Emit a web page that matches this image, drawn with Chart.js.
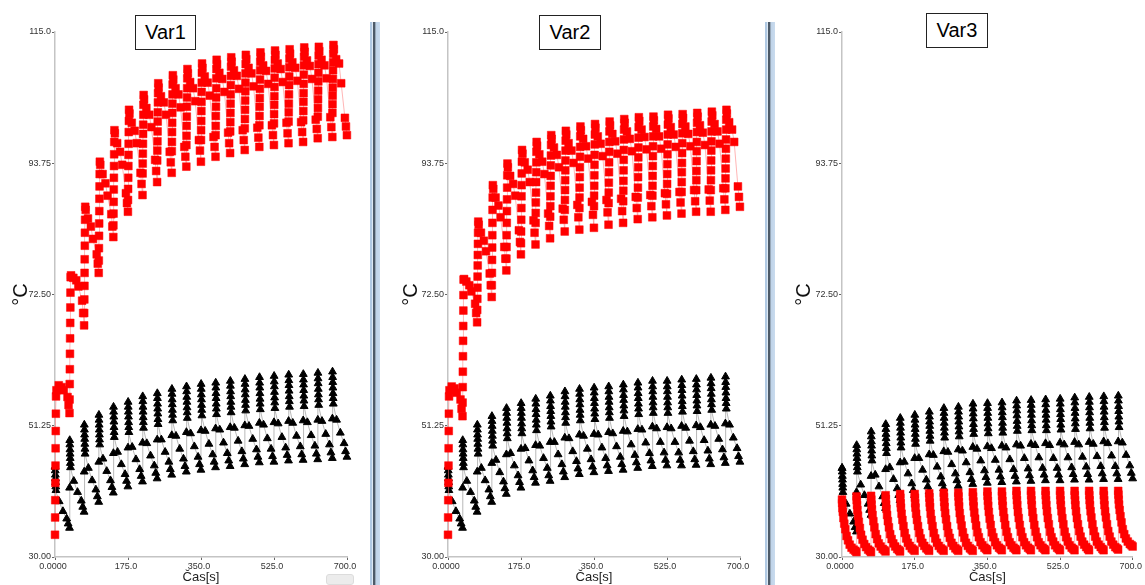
<!DOCTYPE html>
<html>
<head>
<meta charset="utf-8">
<script src="https://cdn.jsdelivr.net/npm/chart.js@4.4.0/dist/chart.umd.min.js"></script>
<style>
  html, body { margin: 0; padding: 0; background: #fff; }
  body { width: 1145px; height: 585px; position: relative; overflow: hidden; font-family: "Liberation Sans", Arial, sans-serif; }
  canvas { position: absolute; top: 0; }
  .tag { position: absolute; box-sizing: border-box; border: 1px solid #222; background: #fff;
         font-size: 20px; color: #000; text-align: center; line-height: 32px; height: 35px; }
  .sep { position: absolute; top: 22px; width: 10px; height: 563px;
         background: linear-gradient(to right, #b0c9e3 0px, #b0c9e3 2px, #dde8f3 2px, #dde8f3 3px,
                     #4d5a68 3px, #4d5a68 5px, #98a8b8 5px, #98a8b8 6px, #bfd3e8 6px, #c9dbee 10px); }
  .badge { position: absolute; left: 326px; top: 574px; width: 28px; height: 11px; background: #ececec;
           border: 1px solid #dcdcdc; border-radius: 3px; box-sizing: border-box; }
</style>
</head>
<body>
<canvas id="p1" width="368" height="585" style="left:0px"></canvas>
<canvas id="p2" width="385" height="585" style="left:380px"></canvas>
<canvas id="p3" width="370" height="585" style="left:775px"></canvas>
<div class="sep" style="left:370px"></div>
<div class="sep" style="left:765px"></div>
<div class="badge"></div>
<div class="tag" style="left:135px;top:15px;width:61px;">Var1</div>
<div class="tag" style="left:539px;top:15px;width:62px;">Var2</div>
<div class="tag" style="left:926px;top:13px;width:62px;">Var3</div>

<script>
// Start time of each 35 s heating cycle [s]
const cycleStarts = [0, 35, 70, 105, 140, 175, 210, 245, 280, 315, 350, 385, 420, 455, 490, 525, 560, 595, 630, 665];

// Axis ticks
const xTickValues = [0, 175, 350, 525, 700];
const xTickLabels = ['0.0000', '175.0', '350.0', '525.0', '700.0'];
const yTickValues = [30, 51.25, 72.5, 93.75, 115];
const yTickLabels = ['30.00', '51.25', '72.50', '93.75', '115.0'];

// Sample times inside a cycle [s after cycle start]
const blackOffsets = [0, 0.3, 0.6, 0.9, 1.2, 1.5, 1.8, 2.2, 10, 19, 28, 31.5, 34.8];
const redOffsets = [0, 0.3, 0.6, 0.9, 1.2, 1.5, 1.8, 2.1, 2.5, 3.5, 9, 16, 21, 30, 32.5, 34.8];
const var3RedOffsets = [0, 0.5, 1.2, 2, 3.5, 5.5, 8, 11, 14.5, 18.5, 23, 28, 32, 34.8];

// Var1 – red sensor [°C], one row per cycle
const var1Red = [
  [33.6, 36.4, 39.2, 42.0, 44.8, 47.6, 50.4, 53.2, 56.0, 57.0, 57.8, 57.5, 57.0, 55.9, 54.6, 53.3],
  [55.5, 58.0, 60.4, 62.9, 65.4, 67.9, 70.4, 72.8, 75.3, 75.6, 75.2, 74.8, 73.8, 71.5, 69.5, 67.5],
  [69.5, 71.7, 73.9, 76.0, 78.2, 80.4, 82.5, 84.6, 86.7, 86.2, 84.8, 83.5, 81.5, 79.0, 77.5, 76.0],
  [78.0, 80.0, 82.0, 84.0, 86.0, 88.0, 90.0, 92.0, 94.0, 93.5, 92.0, 90.5, 88.5, 85.5, 83.5, 81.8],
  [83.7, 85.6, 87.5, 89.5, 91.4, 93.3, 95.2, 97.2, 99.1, 98.6, 97.0, 95.6, 93.5, 88.9, 87.3, 85.9],
  [87.8, 89.6, 91.4, 93.3, 95.1, 96.9, 98.8, 100.6, 102.4, 101.8, 100.3, 99.0, 97.0, 92.2, 90.4, 88.6],
  [92.1, 93.7, 95.3, 96.9, 98.5, 100.0, 101.6, 103.2, 104.8, 104.1, 102.7, 101.6, 99.6, 94.3, 92.5, 90.7],
  [94.2, 95.8, 97.3, 98.9, 100.5, 102.0, 103.6, 105.1, 106.7, 106.0, 104.6, 103.6, 101.6, 95.6, 93.9, 92.2],
  [95.7, 97.2, 98.8, 100.3, 101.9, 103.4, 104.9, 106.5, 108.0, 107.3, 105.9, 104.9, 102.8, 96.4, 94.8, 93.2],
  [96.7, 98.2, 99.8, 101.3, 102.9, 104.4, 105.9, 107.5, 109.0, 108.3, 106.9, 105.9, 103.8, 97.5, 95.8, 94.0],
  [97.5, 99.1, 100.6, 102.2, 103.7, 105.3, 106.8, 108.4, 109.9, 109.2, 107.8, 106.8, 104.7, 98.0, 96.4, 94.8],
  [98.3, 99.8, 101.4, 102.9, 104.4, 105.9, 107.5, 109.0, 110.5, 109.8, 108.4, 107.4, 105.3, 98.7, 97.0, 95.4],
  [98.9, 100.4, 101.9, 103.4, 104.9, 106.4, 107.9, 109.4, 110.9, 110.2, 108.8, 107.9, 105.8, 99.1, 97.5, 95.9],
  [99.4, 100.9, 102.4, 103.9, 105.4, 106.8, 108.3, 109.8, 111.3, 110.6, 109.2, 108.3, 106.2, 99.5, 97.9, 96.4],
  [99.9, 101.4, 102.9, 104.3, 105.8, 107.3, 108.8, 110.2, 111.7, 111.0, 109.6, 108.7, 106.6, 99.9, 98.3, 96.7],
  [100.2, 101.7, 103.2, 104.6, 106.1, 107.6, 109.1, 110.5, 112.0, 111.3, 109.9, 109.0, 106.9, 100.3, 98.6, 97.0],
  [100.5, 102.0, 103.4, 104.9, 106.4, 107.8, 109.3, 110.7, 112.2, 111.5, 110.1, 109.2, 107.1, 100.4, 98.8, 97.2],
  [100.7, 102.2, 103.7, 105.1, 106.6, 108.1, 109.6, 111.0, 112.5, 111.8, 110.4, 109.5, 107.4, 100.8, 99.3, 97.8],
  [101.3, 102.7, 104.1, 105.5, 107.0, 108.4, 109.8, 111.2, 112.6, 111.9, 110.5, 109.6, 107.5, 101.2, 99.6, 98.0],
  [101.9, 103.3, 104.7, 106.0, 107.4, 108.8, 110.1, 111.5, 112.9, 112.2, 110.6, 109.9, 106.7, 101.1, 99.7, 98.3]
];

// Var1 – black sensor [°C]
const var1Black = [
  [44.6, 44.6, 44.0, 43.3, 42.7, 42.1, 41.4, 40.8, 39.0, 37.4, 36.2, 35.4, 34.7],
  [41.2, 48.9, 48.2, 47.4, 46.7, 46.0, 45.2, 44.5, 42.3, 40.5, 39.1, 38.1, 37.3],
  [43.8, 51.4, 50.6, 49.8, 49.1, 48.3, 47.5, 46.7, 44.4, 42.4, 40.9, 39.8, 38.9],
  [45.4, 53.0, 52.2, 51.4, 50.6, 49.8, 49.0, 48.2, 45.9, 43.9, 42.4, 41.3, 40.4],
  [46.8, 54.3, 53.5, 52.7, 51.9, 51.0, 50.2, 49.4, 47.0, 45.0, 43.4, 42.3, 41.4],
  [47.7, 55.1, 54.3, 53.5, 52.7, 51.8, 51.0, 50.2, 47.8, 45.8, 44.2, 43.1, 42.2],
  [48.5, 56.0, 55.2, 54.3, 53.5, 52.6, 51.8, 50.9, 48.4, 46.4, 44.8, 43.6, 42.7],
  [49.0, 56.5, 55.7, 54.8, 54.0, 53.2, 52.3, 51.5, 49.0, 47.0, 45.4, 44.2, 43.3],
  [49.7, 57.2, 56.4, 55.5, 54.7, 53.8, 53.0, 52.1, 49.6, 47.5, 45.9, 44.7, 43.8],
  [50.2, 57.6, 56.8, 55.9, 55.1, 54.2, 53.4, 52.5, 50.0, 47.9, 46.2, 45.0, 44.1],
  [50.5, 58.0, 57.2, 56.3, 55.5, 54.6, 53.8, 52.9, 50.4, 48.3, 46.6, 45.4, 44.5],
  [50.8, 58.2, 57.4, 56.5, 55.7, 54.8, 54.0, 53.1, 50.6, 48.5, 46.8, 45.6, 44.7],
  [51.0, 58.5, 57.7, 56.8, 56.0, 55.1, 54.3, 53.4, 50.9, 48.8, 47.1, 45.9, 45.0],
  [51.3, 58.8, 58.0, 57.1, 56.3, 55.4, 54.6, 53.7, 51.2, 49.1, 47.4, 46.2, 45.3],
  [51.7, 59.1, 58.2, 57.4, 56.5, 55.6, 54.8, 53.9, 51.4, 49.2, 47.5, 46.3, 45.4],
  [51.8, 59.3, 58.4, 57.6, 56.7, 55.8, 55.0, 54.1, 51.6, 49.4, 47.7, 46.5, 45.6],
  [52.0, 59.5, 58.6, 57.8, 56.9, 56.0, 55.2, 54.3, 51.7, 49.6, 47.9, 46.6, 45.7],
  [52.1, 59.6, 58.7, 57.9, 57.0, 56.1, 55.3, 54.4, 51.8, 49.7, 48.0, 46.7, 45.8],
  [52.2, 59.8, 58.9, 58.1, 57.2, 56.3, 55.5, 54.6, 52.0, 49.9, 48.2, 46.9, 46.0],
  [52.4, 60.0, 59.1, 58.3, 57.4, 56.5, 55.7, 54.8, 52.2, 50.1, 48.4, 47.1, 46.2]
];

// Var2 – red sensor [°C]
const var2Red = [
  [33.6, 36.4, 39.2, 42.0, 44.8, 47.6, 50.4, 53.2, 56.0, 57.0, 57.6, 57.3, 56.6, 55.5, 54.0, 52.8],
  [55.0, 57.5, 60.0, 62.5, 65.0, 67.4, 69.9, 72.4, 74.9, 75.0, 74.6, 74.0, 73.0, 71.0, 69.5, 68.0],
  [70.0, 71.8, 73.6, 75.4, 77.2, 78.9, 80.7, 82.5, 84.3, 83.8, 82.5, 81.2, 79.5, 75.9, 74.0, 72.1],
  [74.0, 76.0, 78.1, 80.1, 82.1, 84.1, 86.2, 88.2, 90.2, 89.6, 88.2, 86.9, 85.0, 80.2, 78.3, 76.4],
  [78.3, 80.2, 82.1, 84.1, 86.0, 87.9, 89.8, 91.8, 93.7, 93.1, 91.7, 90.4, 88.5, 82.9, 81.0, 79.0],
  [80.8, 82.7, 84.6, 86.5, 88.4, 90.2, 92.1, 94.0, 95.9, 95.3, 93.9, 92.7, 90.7, 84.5, 82.5, 80.6],
  [84.1, 85.7, 87.4, 89.0, 90.7, 92.3, 93.9, 95.6, 97.2, 96.6, 95.2, 94.0, 92.0, 85.6, 83.6, 81.6],
  [85.1, 86.8, 88.4, 90.1, 91.7, 93.4, 95.0, 96.7, 98.3, 97.7, 96.3, 95.1, 93.1, 86.4, 84.6, 82.7],
  [86.2, 87.8, 89.4, 91.0, 92.6, 94.2, 95.8, 97.4, 99.0, 98.4, 97.0, 95.8, 93.8, 87.0, 85.0, 83.0],
  [86.5, 88.2, 89.8, 91.5, 93.1, 94.8, 96.4, 98.1, 99.7, 99.1, 97.7, 96.5, 94.5, 87.5, 85.4, 83.3],
  [86.8, 88.5, 90.1, 91.8, 93.5, 95.1, 96.8, 98.4, 100.1, 99.5, 98.1, 96.9, 94.9, 87.8, 85.8, 83.8],
  [87.3, 89.0, 90.6, 92.3, 93.9, 95.6, 97.2, 98.9, 100.5, 99.9, 98.5, 97.3, 95.3, 88.0, 86.0, 84.1],
  [87.6, 89.3, 90.9, 92.6, 94.3, 95.9, 97.6, 99.2, 100.9, 100.3, 98.9, 97.7, 95.7, 88.3, 86.5, 84.7],
  [88.2, 89.8, 91.5, 93.1, 94.7, 96.3, 97.9, 99.6, 101.2, 100.6, 99.2, 98.0, 96.0, 88.6, 86.8, 85.0],
  [88.5, 90.1, 91.7, 93.3, 94.9, 96.5, 98.1, 99.7, 101.3, 100.7, 99.3, 98.1, 96.1, 88.9, 87.1, 85.3],
  [88.8, 90.4, 92.0, 93.6, 95.2, 96.8, 98.4, 100.0, 101.6, 101.0, 99.6, 98.4, 96.4, 89.1, 87.4, 85.6],
  [89.1, 90.7, 92.3, 93.8, 95.4, 97.0, 98.6, 100.1, 101.7, 101.1, 99.7, 98.5, 96.5, 89.4, 87.6, 85.9],
  [89.4, 91.0, 92.5, 94.1, 95.7, 97.2, 98.8, 100.3, 101.9, 101.3, 99.9, 98.7, 96.7, 89.5, 87.7, 85.9],
  [89.4, 91.0, 92.6, 94.2, 95.8, 97.3, 98.9, 100.5, 102.1, 101.5, 100.1, 98.9, 96.9, 89.7, 87.9, 86.2],
  [89.7, 91.3, 92.9, 94.5, 96.1, 97.6, 99.2, 100.8, 102.4, 101.8, 100.4, 99.2, 97.2, 90.0, 88.3, 86.7]
];

// Var2 – black sensor [°C]
const var2Black = [
  [44.6, 44.6, 44.0, 43.3, 42.7, 42.1, 41.4, 40.8, 39.0, 37.4, 36.2, 35.4, 34.7],
  [41.2, 48.9, 48.2, 47.4, 46.7, 46.0, 45.2, 44.5, 42.3, 40.5, 39.1, 38.1, 37.3],
  [43.8, 51.4, 50.6, 49.8, 49.1, 48.3, 47.5, 46.7, 44.4, 42.4, 40.9, 39.8, 38.9],
  [45.2, 52.8, 52.0, 51.2, 50.4, 49.6, 48.8, 48.0, 45.7, 43.7, 42.2, 41.1, 40.2],
  [46.6, 54.1, 53.3, 52.5, 51.7, 50.8, 50.0, 49.2, 46.8, 44.8, 43.2, 42.1, 41.2],
  [47.5, 54.9, 54.1, 53.3, 52.5, 51.6, 50.8, 50.0, 47.6, 45.6, 44.0, 42.9, 42.0],
  [48.1, 55.6, 54.8, 53.9, 53.1, 52.2, 51.4, 50.5, 48.0, 46.0, 44.4, 43.2, 42.3],
  [48.6, 56.1, 55.3, 54.4, 53.6, 52.8, 51.9, 51.1, 48.6, 46.6, 45.0, 43.8, 42.9],
  [49.3, 56.8, 56.0, 55.1, 54.3, 53.4, 52.6, 51.7, 49.2, 47.1, 45.5, 44.3, 43.4],
  [49.8, 57.2, 56.4, 55.5, 54.7, 53.8, 53.0, 52.1, 49.6, 47.5, 45.8, 44.6, 43.7],
  [49.9, 57.4, 56.6, 55.7, 54.9, 54.0, 53.2, 52.3, 49.8, 47.7, 46.0, 44.8, 43.9],
  [50.2, 57.6, 56.8, 55.9, 55.1, 54.2, 53.4, 52.5, 50.0, 47.9, 46.2, 45.0, 44.1],
  [50.4, 57.9, 57.1, 56.2, 55.4, 54.5, 53.7, 52.8, 50.3, 48.2, 46.5, 45.3, 44.4],
  [50.7, 58.2, 57.4, 56.5, 55.7, 54.8, 54.0, 53.1, 50.6, 48.5, 46.8, 45.6, 44.7],
  [51.1, 58.5, 57.6, 56.8, 55.9, 55.0, 54.2, 53.3, 50.8, 48.6, 46.9, 45.7, 44.8],
  [51.0, 58.5, 57.6, 56.8, 55.9, 55.0, 54.2, 53.3, 50.8, 48.6, 46.9, 45.7, 44.8],
  [51.2, 58.7, 57.8, 57.0, 56.1, 55.2, 54.4, 53.5, 50.9, 48.8, 47.1, 45.8, 44.9],
  [51.3, 58.8, 57.9, 57.1, 56.2, 55.3, 54.5, 53.6, 51.0, 48.9, 47.2, 45.9, 45.0],
  [51.4, 59.0, 58.1, 57.3, 56.4, 55.5, 54.7, 53.8, 51.2, 49.1, 47.4, 46.1, 45.2],
  [51.6, 59.2, 58.3, 57.5, 56.6, 55.7, 54.9, 54.0, 51.4, 49.3, 47.6, 46.3, 45.4]
];

// Var3 – red sensor [°C]
const var3Red = [
  [39.3, 38.7, 37.9, 37.3, 36.3, 35.4, 34.5, 33.4, 32.7, 32.0, 31.5, 31.2, 31.0, 30.8],
  [39.8, 39.2, 38.4, 37.6, 36.7, 35.7, 34.7, 33.6, 32.8, 32.1, 31.6, 31.2, 31.0, 30.8],
  [39.9, 39.3, 38.5, 37.7, 36.8, 35.8, 34.8, 33.7, 32.9, 32.2, 31.7, 31.3, 31.1, 30.9],
  [40.0, 39.4, 38.5, 37.8, 36.8, 35.8, 34.8, 33.7, 32.9, 32.2, 31.7, 31.3, 31.1, 30.9],
  [40.2, 39.6, 38.7, 38.0, 37.0, 36.0, 35.0, 33.9, 33.0, 32.3, 31.8, 31.4, 31.2, 31.0],
  [40.2, 39.6, 38.7, 38.0, 37.0, 36.0, 35.0, 33.9, 33.0, 32.3, 31.8, 31.4, 31.2, 31.0],
  [40.3, 39.6, 38.8, 38.1, 37.0, 36.0, 35.0, 33.9, 33.0, 32.3, 31.8, 31.4, 31.2, 31.0],
  [40.4, 39.7, 38.9, 38.1, 37.1, 36.1, 35.0, 33.9, 33.1, 32.3, 31.8, 31.4, 31.2, 31.0],
  [40.4, 39.8, 38.9, 38.2, 37.1, 36.1, 35.1, 34.0, 33.1, 32.3, 31.8, 31.4, 31.2, 31.0],
  [40.5, 39.8, 39.0, 38.2, 37.2, 36.2, 35.1, 34.0, 33.2, 32.4, 31.9, 31.5, 31.3, 31.1],
  [40.6, 39.9, 39.1, 38.3, 37.3, 36.2, 35.2, 34.0, 33.2, 32.4, 31.9, 31.5, 31.3, 31.1],
  [40.6, 39.9, 39.1, 38.3, 37.3, 36.3, 35.2, 34.1, 33.2, 32.4, 31.9, 31.5, 31.3, 31.1],
  [40.7, 40.0, 39.2, 38.4, 37.3, 36.3, 35.2, 34.1, 33.2, 32.4, 31.9, 31.5, 31.3, 31.1],
  [40.7, 40.0, 39.2, 38.4, 37.3, 36.3, 35.2, 34.1, 33.2, 32.4, 31.9, 31.5, 31.3, 31.1],
  [40.7, 40.0, 39.2, 38.4, 37.4, 36.3, 35.3, 34.1, 33.2, 32.5, 31.9, 31.5, 31.3, 31.1],
  [40.7, 40.0, 39.2, 38.4, 37.4, 36.3, 35.3, 34.1, 33.2, 32.5, 31.9, 31.5, 31.3, 31.1],
  [40.7, 40.0, 39.2, 38.4, 37.4, 36.3, 35.3, 34.2, 33.3, 32.5, 32.0, 31.6, 31.3, 31.1],
  [40.7, 40.0, 39.2, 38.4, 37.4, 36.4, 35.3, 34.2, 33.3, 32.5, 32.0, 31.6, 31.3, 31.1],
  [40.7, 40.0, 39.2, 38.4, 37.4, 36.4, 35.3, 34.2, 33.3, 32.5, 32.0, 31.6, 31.4, 31.2],
  [40.7, 40.1, 39.3, 38.5, 37.6, 36.6, 35.6, 34.5, 33.7, 33.0, 32.5, 32.1, 31.9, 31.7]
];

// Var3 – black sensor [°C]
const var3Black = [
  [44.4, 44.4, 43.8, 43.1, 42.5, 41.8, 41.2, 40.5, 38.6, 37.0, 35.7, 34.8, 34.1],
  [40.5, 48.1, 47.4, 46.7, 46.0, 45.2, 44.5, 43.8, 41.7, 40.0, 38.6, 37.6, 36.8],
  [43.1, 50.3, 49.5, 48.7, 48.0, 47.2, 46.4, 45.6, 43.3, 41.4, 39.8, 38.7, 37.9],
  [44.2, 51.5, 50.7, 49.9, 49.2, 48.4, 47.6, 46.8, 44.5, 42.6, 41.1, 40.0, 39.2],
  [45.3, 52.5, 51.7, 50.9, 50.1, 49.3, 48.5, 47.7, 45.4, 43.5, 41.9, 40.8, 40.0],
  [46.0, 53.0, 52.2, 51.4, 50.7, 49.9, 49.1, 48.3, 46.0, 44.1, 42.5, 41.4, 40.6],
  [46.6, 53.5, 52.7, 51.9, 51.2, 50.4, 49.6, 48.8, 46.5, 44.6, 43.0, 41.9, 41.1],
  [47.1, 54.1, 53.3, 52.5, 51.7, 50.9, 50.1, 49.3, 47.0, 45.0, 43.5, 42.4, 41.5],
  [47.4, 54.3, 53.5, 52.7, 51.9, 51.1, 50.3, 49.5, 47.2, 45.3, 43.7, 42.6, 41.8],
  [47.8, 54.8, 54.0, 53.2, 52.4, 51.5, 50.7, 49.9, 47.5, 45.6, 44.0, 42.9, 42.0],
  [47.9, 54.9, 54.1, 53.3, 52.5, 51.6, 50.8, 50.0, 47.6, 45.7, 44.1, 43.0, 42.1],
  [48.0, 55.0, 54.2, 53.4, 52.6, 51.7, 50.9, 50.1, 47.7, 45.8, 44.2, 43.1, 42.2],
  [48.2, 55.3, 54.5, 53.7, 52.9, 52.0, 51.2, 50.4, 48.0, 46.0, 44.3, 43.2, 42.3],
  [48.3, 55.4, 54.6, 53.8, 53.0, 52.1, 51.3, 50.5, 48.1, 46.1, 44.4, 43.3, 42.4],
  [48.4, 55.5, 54.7, 53.8, 53.0, 52.2, 51.3, 50.5, 48.1, 46.0, 44.4, 43.3, 42.4],
  [48.5, 55.6, 54.8, 53.9, 53.1, 52.3, 51.4, 50.6, 48.2, 46.1, 44.5, 43.4, 42.5],
  [48.6, 55.8, 55.0, 54.1, 53.3, 52.4, 51.6, 50.7, 48.2, 46.2, 44.6, 43.4, 42.5],
  [48.6, 55.9, 55.1, 54.2, 53.4, 52.5, 51.7, 50.8, 48.3, 46.3, 44.7, 43.5, 42.6],
  [48.7, 56.0, 55.2, 54.3, 53.5, 52.6, 51.8, 50.9, 48.4, 46.4, 44.7, 43.5, 42.6],
  [48.7, 56.1, 55.3, 54.4, 53.6, 52.7, 51.9, 51.0, 48.5, 46.5, 44.8, 43.6, 42.7]
];

// Turn per-cycle rows into {x: time, y: temperature} points
function toPoints(rows, offsets) {
  const pts = [];
  rows.forEach((row, i) => {
    row.forEach((v, j) => pts.push({ x: cycleStarts[i] + offsets[j], y: v }));
  });
  return pts;
}

const tickFont = { family: '"Liberation Sans", Arial, sans-serif', size: 9 };

function drawPanel(id, axisWidth, padRight, titlePad, redRows, redOffs, blackRows) {
  new Chart(document.getElementById(id), {
    type: 'line',
    data: {
      datasets: [
        {
          label: 'red',
          data: toPoints(redRows, redOffs),
          order: 0,
          borderColor: 'rgba(255, 120, 120, 0.55)',
          borderWidth: 1,
          pointStyle: 'rect',
          pointRadius: 5.5,
          pointBackgroundColor: '#ff0000',
          pointBorderColor: '#ff0000',
          pointBorderWidth: 0.5,
          clip: false
        },
        {
          label: 'black',
          data: toPoints(blackRows, blackOffsets),
          order: 1,
          borderColor: '#b9b9b9',
          borderWidth: 1,
          pointStyle: 'triangle',
          pointRadius: 4.5,
          pointBackgroundColor: '#000000',
          pointBorderColor: '#000000',
          pointBorderWidth: 1,
          clip: false
        }
      ]
    },
    options: {
      responsive: false,
      animation: false,
      devicePixelRatio: 1,
      layout: { padding: { top: 32, right: padRight, left: 0, bottom: 0 } },
      elements: { line: { tension: 0 } },
      plugins: { legend: { display: false }, tooltip: { enabled: false } },
      scales: {
        x: {
          type: 'linear', min: 0, max: 700,
          afterBuildTicks: s => { s.ticks = xTickValues.map(v => ({ value: v })); },
          afterFit: s => { s.height = 28; },
          ticks: { callback: (v, i) => xTickLabels[i], font: tickFont, color: '#333',
                   padding: 1, maxRotation: 0, autoSkip: false, labelOffset: -2 },
          grid: { drawOnChartArea: false, drawTicks: true, tickLength: 3, color: '#666' },
          border: { display: true, color: '#c4c4c4', width: 1.5 },
          title: { display: true, text: 'Čas[s]', color: '#222',
                   font: { family: '"Liberation Sans", Arial, sans-serif', size: 13 },
                   padding: { top: 0, bottom: 0 } }
        },
        y: {
          type: 'linear', min: 30, max: 115,
          afterBuildTicks: s => { s.ticks = yTickValues.map(v => ({ value: v })); },
          afterFit: s => { s.width = axisWidth; },
          ticks: { callback: (v, i) => yTickLabels[i], font: tickFont, color: '#333', padding: 1, autoSkip: false },
          grid: { drawOnChartArea: false, drawTicks: true, tickLength: 3, color: '#666' },
          border: { display: true, color: '#c4c4c4', width: 1.5 },
          title: { display: true, text: '°C', color: '#111',
                   font: { family: '"Liberation Sans", Arial, sans-serif', size: 20 },
                   padding: { top: titlePad, bottom: 0 } }
        }
      }
    }
  });
}

drawPanel('p1', 55, 21, 9, var1Red, redOffsets, var1Black);
drawPanel('p2', 68, 25, 19, var2Red, redOffsets, var2Black);
drawPanel('p3', 67, 11, 17, var3Red, var3RedOffsets, var3Black);
</script>
</body>
</html>
